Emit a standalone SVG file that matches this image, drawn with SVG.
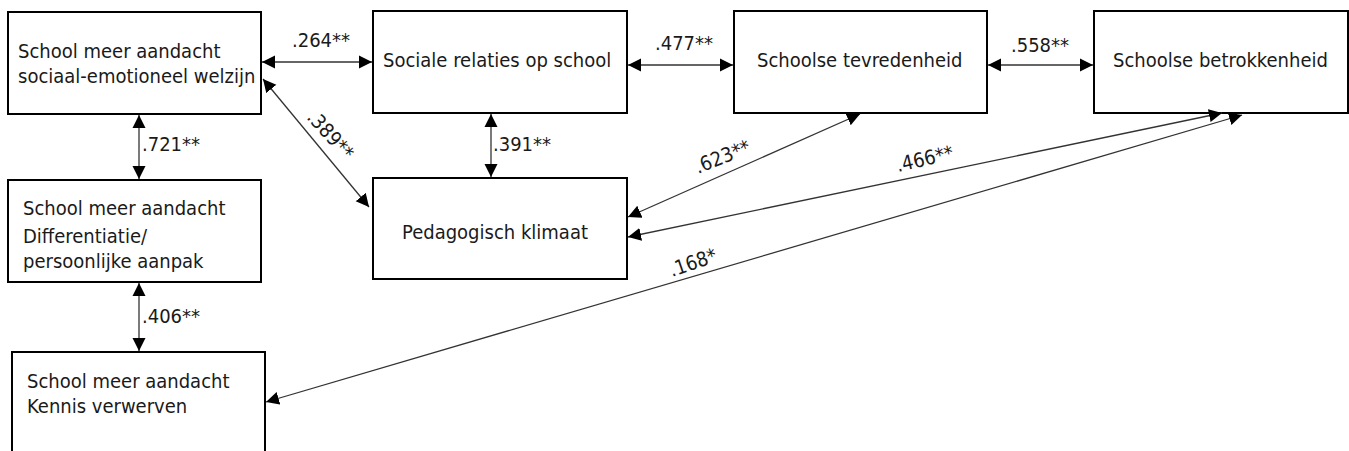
<svg xmlns="http://www.w3.org/2000/svg" width="1349" height="451" viewBox="0 0 1349 451">
  <style>
    .box { fill: #ffffff; stroke: #000000; stroke-width: 2; }
    .lbl { font-family: "DejaVu Sans Condensed", "DejaVu Sans", Verdana, sans-serif; font-stretch: condensed; font-size: 20px; fill: #1a1a1a; }
    .conn { stroke: #333333; stroke-width: 1.3; fill: none; marker-start: url(#head); marker-end: url(#head); }
  </style>
  <defs>
    <marker id="head" markerUnits="userSpaceOnUse" markerWidth="14" markerHeight="14" refX="13" refY="6.5" orient="auto-start-reverse" viewBox="0 0 14 13">
      <path d="M0,0 L13,6.5 L0,13 z" fill="#000000"/>
    </marker>
  </defs>

  <rect width="1349" height="451" fill="#ffffff"/>

  <g id="node-sociaal-emotioneel">
    <rect class="box" x="8" y="12" width="253" height="102"/>
    <text class="lbl" x="18" y="58">School meer aandacht</text>
    <text class="lbl" x="18" y="83">sociaal-emotioneel welzijn</text>
  </g>

  <g id="node-sociale-relaties">
    <rect class="box" x="373" y="11" width="254" height="102"/>
    <text class="lbl" x="383" y="67">Sociale relaties op school</text>
  </g>

  <g id="node-tevredenheid">
    <rect class="box" x="734" y="11" width="253" height="102"/>
    <text class="lbl" x="757" y="67">Schoolse tevredenheid</text>
  </g>

  <g id="node-betrokkenheid">
    <rect class="box" x="1094" y="11" width="254" height="102"/>
    <text class="lbl" x="1113" y="67">Schoolse betrokkenheid</text>
  </g>

  <g id="node-pedagogisch">
    <rect class="box" x="373" y="178" width="254" height="101"/>
    <text class="lbl" x="402" y="239">Pedagogisch klimaat</text>
  </g>

  <g id="node-differentiatie">
    <rect class="box" x="8" y="180" width="253" height="102"/>
    <text class="lbl" x="23" y="215">School meer aandacht</text>
    <text class="lbl" x="23" y="243">Differentiatie/</text>
    <text class="lbl" x="23" y="268">persoonlijke aanpak</text>
  </g>

  <g id="node-kennis">
    <rect class="box" x="12" y="352" width="253" height="120"/>
    <text class="lbl" x="27" y="388">School meer aandacht</text>
    <text class="lbl" x="27" y="413">Kennis verwerven</text>
  </g>

  <g id="connectors">
    <line class="conn" x1="262" y1="62" x2="372" y2="62"/>
    <line class="conn" x1="628" y1="65" x2="733" y2="65"/>
    <line class="conn" x1="988" y1="65" x2="1093" y2="65"/>
    <line class="conn" x1="139" y1="115" x2="139" y2="179"/>
    <line class="conn" x1="491" y1="114" x2="491" y2="177"/>
    <line class="conn" x1="139" y1="283" x2="139" y2="351"/>
    <line class="conn" x1="263" y1="79" x2="369" y2="207"/>
    <line class="conn" x1="628" y1="217" x2="860" y2="114"/>
    <line class="conn" x1="628" y1="237" x2="1222" y2="113"/>
    <line class="conn" x1="266" y1="402" x2="1242" y2="115"/>

    <text class="lbl" x="292" y="47">.264**</text>
    <text class="lbl" x="655" y="50">.477**</text>
    <text class="lbl" x="1011" y="52">.558**</text>
    <text class="lbl" x="142" y="151">.721**</text>
    <text class="lbl" x="493" y="151">.391**</text>
    <text class="lbl" x="142" y="323">.406**</text>
    <text class="lbl" transform="translate(306,118) rotate(48)">.389**</text>
    <text class="lbl" transform="translate(698,174) rotate(-22)">.623**</text>
    <text class="lbl" transform="translate(898,172) rotate(-13)">.466**</text>
    <text class="lbl" transform="translate(672,277) rotate(-19)">.168*</text>
  </g>
</svg>
